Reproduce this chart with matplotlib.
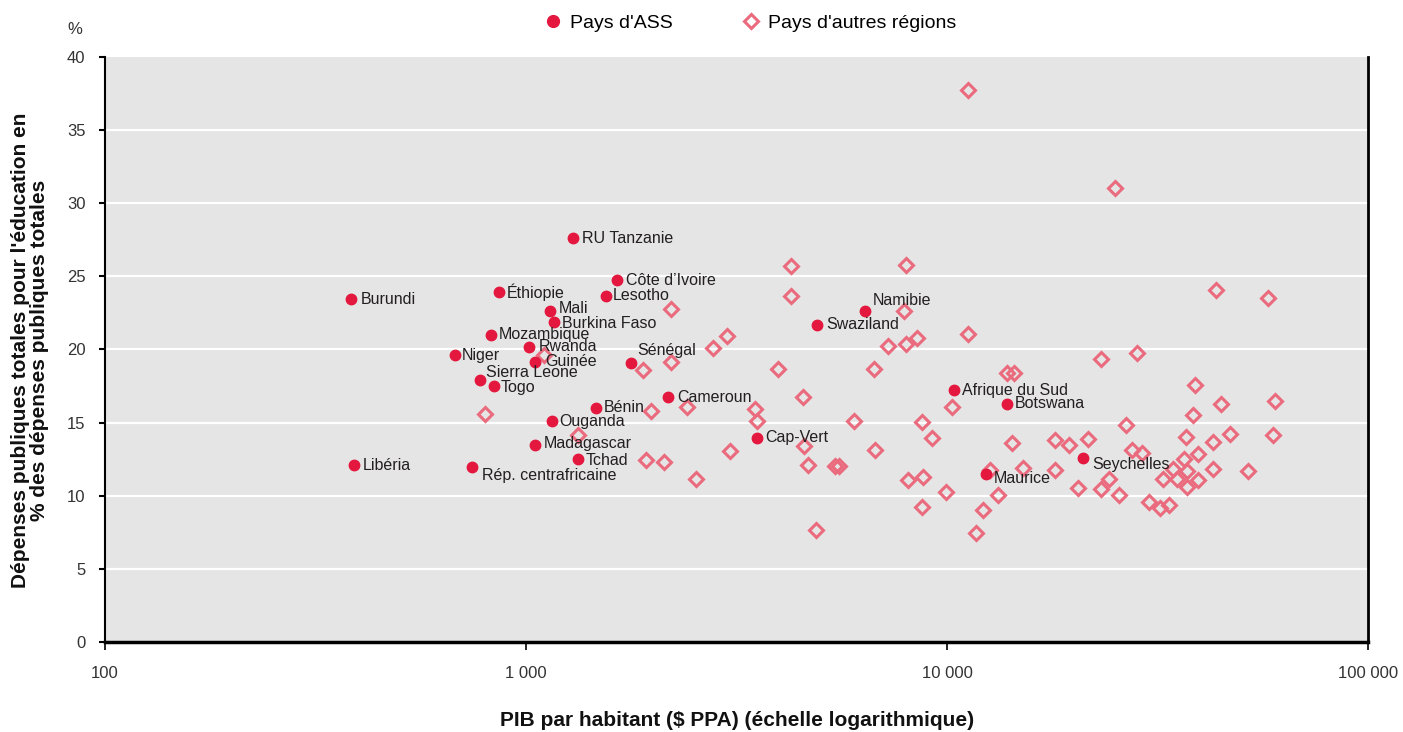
import matplotlib
matplotlib.use("Agg")
import matplotlib.pyplot as plt
from matplotlib.ticker import FixedLocator, NullLocator
from matplotlib.lines import Line2D

plt.rcParams['font.family'] = ['Liberation Sans', 'DejaVu Sans']

# Sub-Saharan African countries (GDP per capita PPP, % of public expenditure on education)
ssa_names = ["Burundi", "Libéria", "Niger", "Sierra Leone", "Togo", "Mozambique", "Éthiopie",
             "Rwanda", "Guinée", "Mali", "Burkina Faso", "Ouganda", "Madagascar", "Tchad",
             "Rép. centrafricaine", "Bénin", "RU Tanzanie", "Côte d\u2019Ivoire", "Lesotho",
             "Sénégal", "Cameroun", "Cap-Vert", "Swaziland", "Namibie", "Afrique du Sud",
             "Botswana", "Maurice", "Seychelles"]
ssa_gdp = [384, 390, 678, 778, 840, 826, 863, 1017, 1050, 1140, 1165, 1152, 1050, 1330,
           745, 1466, 1294, 1644, 1549, 1775, 2173, 3536, 4913, 6384, 10390, 13880, 12380, 21040]
ssa_edu = [23.45, 12.1, 19.6, 17.9, 17.5, 21.0, 23.9, 20.2, 19.15, 22.6, 21.9, 15.1, 13.5, 12.5,
           11.97, 16.0, 27.6, 24.75, 23.66, 19.1, 16.75, 13.95, 21.7, 22.6, 17.2, 16.3, 11.5, 12.6]
# label offsets in pixels (dx, dy)
label_dx = [10, 9, 7, 6, 7, 8, 8, 10, 10, 9, 8, 7, 9, 7, 10, 8, 9, 9, 7, 6, 9, 8, 9, 8, 8, 8, 8, 9]
label_dy = [0, 0, 0, 8, -1, 0, 0, 0, 0, 3, -2, 0, 1, -1, -9, 0, 0, 0, 0, 12, 0, 0, 0, 11, 0, 0, -5, -7]

# Countries of other regions
oth_gdp = [800, 1105, 1332, 2208, 1897, 2208, 1982, 2411, 1928, 2128, 2536, 2781, 3001, 3053,
           3501, 3538, 3969, 4258, 4258, 4546, 4573, 4673, 4884, 6012, 5420, 5535, 6747, 6716,
           7250, 7998, 7913, 7998, 8492, 8070, 8730, 8775, 8730, 9211, 9950, 11210, 11210, 10280,
           12190, 11720, 12650, 13210, 13880, 14420, 14260, 15160, 18080, 19510, 18080, 21620,
           20460, 23220, 23220, 24260, 25650, 26620, 27490, 28260, 29030, 30170, 32060, 33680,
           32580, 34440, 35190, 36540, 37130, 37130, 36960, 38390, 38830, 39480, 39480, 43550,
           42830, 42830, 44770, 46990, 51880, 57850, 60110, 59430, 25060]
oth_edu = [15.6, 19.6, 14.15, 22.8, 18.6, 19.15, 15.8, 16.07, 12.45, 12.3, 11.15, 20.1, 20.9, 13.06,
           15.9, 15.1, 18.7, 25.7, 23.66, 16.75, 13.4, 12.1, 7.66, 15.1, 12.05, 12.05, 13.1, 18.7,
           20.25, 25.8, 22.6, 20.4, 20.8, 11.1, 15.05, 11.3, 9.2, 13.95, 10.25, 37.74, 21.05, 16.1,
           9.03, 7.45, 11.76, 10.05, 18.4, 18.4, 13.6, 11.9, 13.8, 13.5, 11.76, 13.9,
           10.5, 19.35, 10.45, 11.15, 10.05, 14.85, 13.1, 19.75, 12.95, 9.57, 9.16, 9.37,
           11.15, 11.83, 11.15, 12.5, 11.7, 10.6, 14.0, 15.5, 17.57, 12.85, 11.1, 24.1,
           13.7, 11.8, 16.3, 14.2, 11.7, 23.5, 16.5, 14.15, 31.04]

x_ticks = [100, 1000, 10000, 100000]
x_ticklabels = ["100", "1 000", "10 000", "100 000"]
y_ticks = [0, 5, 10, 15, 20, 25, 30, 35, 40]

RED = "#E4173E"
PINK = "#EB6B7E"
TXT = "#231F20"

fig = plt.figure(figsize=(14.03, 7.32), dpi=100)
ax = fig.add_axes([105/1403, 90/732, (1368-105)/1403, (642-57)/732])
ax.set_facecolor("#E5E5E5")
ax.set_xscale("log")
ax.set_xlim(100, 100000)
ax.set_ylim(0, 40)

for yv in y_ticks[1:-1]:
    ax.axhline(yv, color="white", lw=1.6, zorder=1)

ax.plot(oth_gdp, oth_edu, linestyle="none", marker="D", markersize=7.5,
        markerfacecolor="none", markeredgecolor=PINK, markeredgewidth=2.2, zorder=3)
ax.plot(ssa_gdp, ssa_edu, linestyle="none", marker="o", markersize=7.5,
        markerfacecolor=RED, markeredgecolor=RED, zorder=4)

for n, gx, gy, dx, dy in zip(ssa_names, ssa_gdp, ssa_edu, label_dx, label_dy):
    ax.annotate(n, (gx, gy), xytext=(dx, dy), textcoords="offset pixels",
                ha="left", va="center", fontsize=11.5, color=TXT, zorder=5)

ax.xaxis.set_major_locator(FixedLocator(x_ticks))
ax.xaxis.set_minor_locator(NullLocator())
ax.set_xticklabels(x_ticklabels)
ax.set_yticks(y_ticks)
ax.tick_params(axis="x", length=6, width=1.2, pad=11, labelsize=12, labelcolor="#333333", direction="out")
ax.tick_params(axis="y", length=4, width=1.5, pad=10, labelsize=12, labelcolor="#333333", direction="out")

ax.spines["top"].set_visible(False)
ax.spines["left"].set_linewidth(1.5)
ax.spines["right"].set_linewidth(2)
ax.spines["bottom"].set_linewidth(2.5)
for s in ["left", "right", "bottom"]:
    ax.spines[s].set_color("black")

fig.text(737/1403, 1 - 720/732, "PIB par habitant ($ PPA) (échelle logarithmique)", fontsize=15,
         fontweight="bold", color="#111111", ha="center", va="center")
fig.text(30/1403, 1 - 350/732,
         "Dépenses publiques totales pour l'éducation en\n% des dépenses publiques totales",
         fontsize=15, fontweight="bold", color="#111111", ha="center", va="center",
         rotation=90, linespacing=1.0, multialignment="center")
fig.text(75/1403, 1 - 30/732, "%", fontsize=12, color="#333333", ha="center", va="center")

handles = [Line2D([], [], linestyle="none", marker="o", markersize=8.5, markerfacecolor=RED,
                  markeredgecolor=RED, label="Pays d'ASS"),
           Line2D([], [], linestyle="none", marker="D", markersize=7.5, markerfacecolor="none",
                  markeredgecolor=PINK, markeredgewidth=2.2, label="Pays d'autres régions")]
fig.legend(handles=handles, loc="center", bbox_to_anchor=(750/1403, 1 - 23/732), ncol=2,
           frameon=False, fontsize=14, handletextpad=0.4, columnspacing=3.5, handlelength=1.0)

fig.savefig("out.png", dpi=100)
